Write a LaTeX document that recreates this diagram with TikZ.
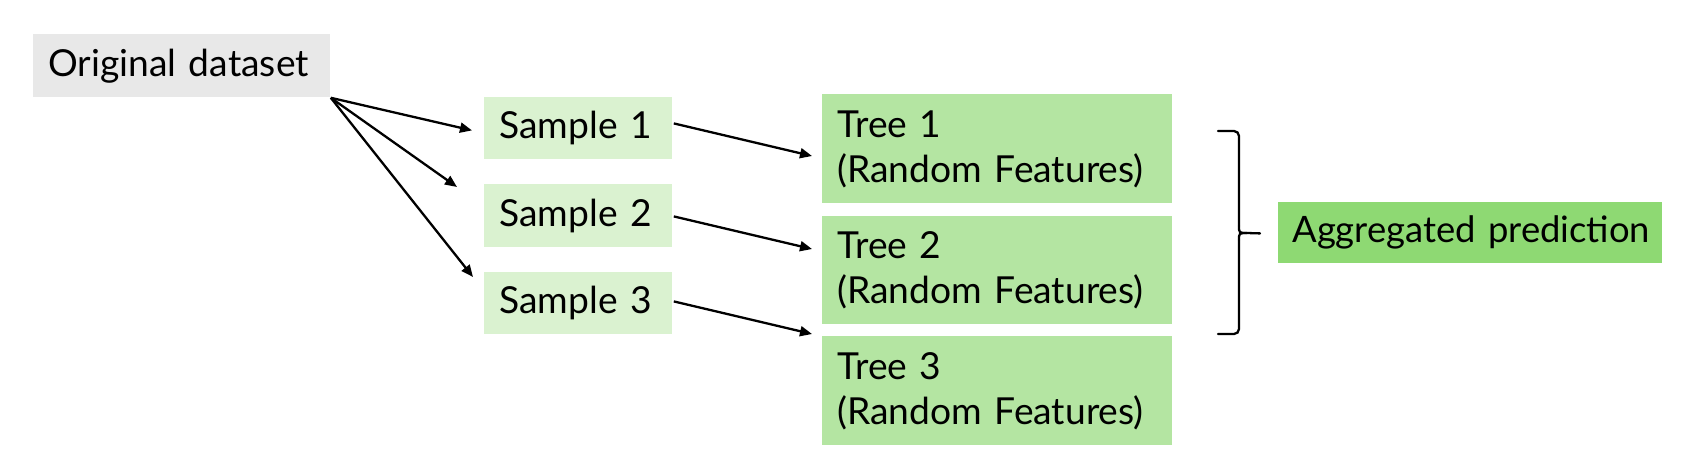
\documentclass[tikz,border=0pt]{standalone}
\usepackage{fontspec}
\setmainfont{Lato}
\usetikzlibrary{calc,arrows.meta}
\newlength\ux
\setlength\ux{0.5pt}
\definecolor{origgray}{HTML}{E8E8E8}
\definecolor{samplegreen}{HTML}{DAF2D0}
\definecolor{treegreen}{HTML}{B4E5A2}
\definecolor{agggreen}{HTML}{8ED973}
\tikzset{
  box/.style={anchor=north west, inner xsep=15\ux, inner ysep=0pt, align=left,
    font=\fontsize{18.6pt}{22.5pt}\selectfont, draw=none},
  arr/.style={line width=1.15pt, -{Triangle[length=6pt,width=5pt]}},
  bracket/.style={line width=1.15pt, line cap=round},
}
\begin{document}
\begin{tikzpicture}[x=0.5pt,y=-0.5pt]
\useasboundingbox (0,0) rectangle (1691,456);
\node[box, fill=origgray, minimum width=297\ux, minimum height=63\ux, text width=267\ux] (orig) at (33,34) {Original dataset};
\node[box, fill=samplegreen, minimum width=188\ux, minimum height=62\ux, text width=158\ux] (s1) at (484,97) {Sample 1};
\node[box, fill=samplegreen, minimum width=188\ux, minimum height=63\ux, text width=158\ux] (s2) at (484,184) {Sample 2};
\node[box, fill=samplegreen, minimum width=188\ux, minimum height=62\ux, text width=158\ux] (s3) at (484,272) {Sample 3};
\node[box, fill=treegreen, minimum width=350\ux, minimum height=109\ux, text width=320\ux] (t1) at (822,94) {Tree 1\\(Random Features)};
\node[box, fill=treegreen, minimum width=350\ux, minimum height=108\ux, text width=320\ux] (t2) at (822,216) {Tree 2\\(Random Features)};
\node[box, fill=treegreen, minimum width=350\ux, minimum height=109\ux, text width=320\ux] (t3) at (822,336) {Tree 3\\(Random Features)};
\node[box, fill=agggreen, minimum width=384\ux, minimum height=61\ux, text width=356\ux, inner xsep=14\ux, font=\fontsize{18.2pt}{22.5pt}\selectfont] (agg) at (1278,202) {\mbox{Aggregated prediction}};
% arrows from the original dataset
\draw[arr] (orig.south east) -- ($(s1.west)+(-12,2)$);
\draw[arr] (orig.south east) -- ($(s2.north west)+(-27,3)$);
\draw[arr] (orig.south east) -- ($(s3.north west)+(-11,5)$);
% arrows from samples to trees
\draw[arr] ($(s1.east)+(1,-5)$) -- ($(t1.north west)+(-10,62)$);
\draw[arr] ($(s2.east)+(1,0.5)$) -- ($(t2.north west)+(-10,33)$);
\draw[arr] ($(s3.east)+(1,-2)$) -- ($(t3.north west)+(-10,-2)$);
% bracket
\coordinate (btip) at ($(agg.west)+(-18,0.5)$);
\draw[bracket, rounded corners=5\ux] (1218,131) -- (1239,131) -- (1239,226);
\draw[bracket] (1239,226) .. controls (1239,233) .. (1247,233) -- (btip);
\draw[bracket] (1239,240) .. controls (1239,233) .. (1247,233);
\draw[bracket, rounded corners=5\ux] (1239,240) -- (1239,334) -- (1218,334);
\end{tikzpicture}
\end{document}
